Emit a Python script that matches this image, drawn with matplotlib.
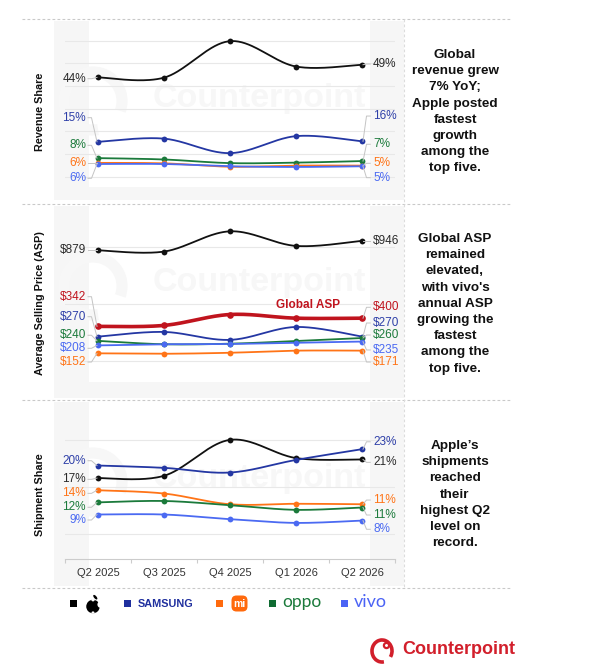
import numpy as np
import matplotlib
matplotlib.use('Agg')
import matplotlib.pyplot as plt
from matplotlib.patches import Rectangle, Ellipse, Circle, FancyBboxPatch, Arc
from matplotlib.lines import Line2D

plt.rcParams['font.family'] = ['Liberation Sans', 'DejaVu Sans']

# ---------------- data ----------------
quarters = ['Q2 2025', 'Q3 2025', 'Q4 2025', 'Q1 2026', 'Q2 2026']
brands = ['Apple', 'Samsung', 'Xiaomi', 'OPPO', 'vivo']

revenue_apple = [43.8, 43.7, 59.8, 48.6, 49.4]
revenue_samsung = [15.4, 16.8, 10.4, 17.9, 15.6]
revenue_xiaomi = [6.1, 5.9, 4.4, 4.9, 4.9]
revenue_oppo = [8.2, 7.6, 6.0, 6.2, 6.9]
revenue_vivo = [5.6, 5.6, 4.6, 4.3, 4.6]

asp_apple = [879, 870, 1013, 910, 946]
asp_samsung = [270, 303, 247, 338, 270]
asp_xiaomi = [152, 149, 156, 171, 171]
asp_oppo = [240, 216, 220, 239, 260]
asp_vivo = [208, 216, 218, 227, 235]
asp_global = [342, 349, 426, 400, 400]

ship_apple = [16.9, 17.4, 25.1, 21.2, 20.9]
ship_samsung = [19.6, 19.1, 18.1, 20.8, 23.1]
ship_xiaomi = [14.3, 13.6, 11.3, 11.4, 11.3]
ship_oppo = [11.7, 12.0, 11.1, 10.1, 10.6]
ship_vivo = [9.1, 9.1, 8.1, 7.3, 7.8]

panel_titles = ['Revenue Share', 'Average Selling Price (ASP)', 'Shipment Share']
comments = [
    ['Global', 'revenue grew', '7% YoY;', 'Apple posted', 'fastest', 'growth', 'among the', 'top five.'],
    ['Global ASP', 'remained', 'elevated,', "with vivo's", 'annual ASP', 'growing the', 'fastest', 'among the', 'top five.'],
    ['Apple\u2019s', 'shipments', 'reached', 'their', 'highest Q2', 'level on', 'record.'],
]

# ---------------- styles ----------------
W, H = 600, 665
colors = {'Apple': '#111111', 'Samsung': '#2437a3', 'Xiaomi': '#ff7417',
          'OPPO': '#1b7a3b', 'vivo': '#4b6af2', 'Global': '#c0141e'}
label_colors = {'Apple': '#2a2a2a', 'Samsung': '#2e3fa8', 'Xiaomi': '#ff7417',
                'OPPO': '#1b7a3b', 'vivo': '#4b6af2', 'Global': '#c0141e'}
GRID = '#e8e8e8'
LEADER = '#c4c4c4'

fig = plt.figure(figsize=(W / 100, H / 100), dpi=100)
fig.patch.set_facecolor('white')

def full_axes(z):
    a = fig.add_axes([0, 0, 1, 1], zorder=z)
    a.set_xlim(0, W)
    a.set_ylim(H, 0)
    a.axis('off')
    a.patch.set_alpha(0)
    return a

bg = full_axes(0)
ov = full_axes(10)

def px_axes(x0, y0, x1, y1):
    a = fig.add_axes([x0 / W, 1 - y1 / H, (x1 - x0) / W, (y1 - y0) / H], zorder=5)
    a.patch.set_alpha(0)
    return a

def to_px(ax, x, y):
    dx, dy = ax.transData.transform((x, y))
    return dx, H - dy

def smooth(xs, ys, n=40):
    P = np.column_stack([xs, ys]).astype(float)
    out = [P[0]]
    for i in range(len(P) - 1):
        p0 = P[i - 1] if i > 0 else P[i]
        p1, p2 = P[i], P[i + 1]
        p3 = P[i + 2] if i + 2 < len(P) else P[i + 1]
        c1 = p1 + (p2 - p0) / 6.0
        c2 = p2 - (p3 - p1) / 6.0
        t = np.linspace(0, 1, n)[1:, None]
        seg = ((1 - t) ** 3) * p1 + 3 * ((1 - t) ** 2) * t * c1 + 3 * (1 - t) * t ** 2 * c2 + t ** 3 * p2
        out.extend(seg)
    out = np.array(out)
    return out[:, 0], out[:, 1]

# ---------------- panel frames ----------------
seps = [19, 204, 400, 588]
panels = [(21, 200, 187), (206, 398, 382), (402, 586, 586)]
for (t, b, ib) in panels:
    bg.add_patch(Rectangle((54, t), 350, b - t, facecolor='#f6f6f6', edgecolor='none'))
    bg.add_patch(Rectangle((89, t), 281, ib - t, facecolor='white', edgecolor='none'))
    clip = Rectangle((54, t), 350, b - t, transform=bg.transData, facecolor='none', edgecolor='none')
    bg.add_patch(clip)
    wm = bg.text(153, t + 77, 'Counterpoint', fontsize=24.5, fontweight='bold', color='#f7f7f7',
                 ha='left', va='center', clip_on=True)
    wm.set_clip_path(clip)
    ring = Arc((93, t + 80), 58, 58, theta1=80, theta2=380, lw=8, color='#f7f7f7')
    bg.add_patch(ring)
    ring.set_clip_path(clip)

for y in seps:
    ov.add_line(Line2D([22, 511], [y, y], color='#c9c9c9', lw=0.8, ls=(0, (2.5, 2))))
ov.add_line(Line2D([404, 404], [seps[0], seps[-1]], color='#dcdcdc', lw=0.8, ls=(0, (2.5, 2))))

x = np.arange(len(quarters))

def draw_panel(ax, series, fmt, left_dy, right_dy):
    for name, vals in series:
        c = colors[name]
        sx, sy = smooth(x, vals)
        lw = 2.6 if name == 'Global' else 1.3
        ax.plot(sx, sy, color=c, lw=lw, zorder=3 if name != 'Global' else 2.5, solid_capstyle='round')
        ms = 4.8 if name == 'Global' else 4.2
        ax.plot(x, vals, 'o', color=c, ms=ms, mec=c, mew=0, zorder=4)
    for name, vals in series:
        lc = label_colors[name]
        # left label
        px, py = to_px(ax, x[0], vals[0])
        ly = py + left_dy[name]
        ov.add_line(Line2D([px - 10, px - 6.5, px - 1], [ly, ly, py], color=LEADER, lw=0.7, zorder=1))
        ov.text(px - 12, ly, fmt(vals[0]), color=lc, fontsize=8.5, ha='right', va='center')
        # right label
        px, py = to_px(ax, x[-1], vals[-1])
        ly = py + right_dy[name]
        ov.add_line(Line2D([px + 1, px + 4.5, px + 8.3], [py, ly, ly], color=LEADER, lw=0.7, zorder=1))
        ov.text(px + 11, ly, fmt(vals[-1]), color=lc, fontsize=8.5, ha='left', va='center')

def base_axes(ax, ylim, grid):
    ax.set_xlim(-0.5, len(quarters) - 0.5)
    ax.set_ylim(*ylim)
    for s in ax.spines.values():
        s.set_visible(False)
    ax.set_xticks([])
    ax.set_yticks([])
    for g in grid:
        ax.axhline(g, color=GRID, lw=0.8, zorder=1)

pct = lambda v: f'{round(v)}%'
usd = lambda v: f'${round(v)}'

# --- top: revenue share
ax1 = px_axes(65, 28, 395, 187)
base_axes(ax1, (-4.54, 65.6), [0, 10, 20, 30, 40, 50, 60])
draw_panel(ax1,
           [('Apple', revenue_apple), ('Samsung', revenue_samsung), ('OPPO', revenue_oppo),
            ('Xiaomi', revenue_xiaomi), ('vivo', revenue_vivo)],
           pct,
           {'Apple': 1.3, 'Samsung': -24.1, 'OPPO': -12.8, 'Xiaomi': 0, 'vivo': 14.3},
           {'Apple': -0.7, 'Samsung': -25.3, 'OPPO': -16.8, 'Xiaomi': -2.3, 'vivo': 11.4})

# --- middle: ASP
ax2 = px_axes(65, 213, 395, 382)
base_axes(ax2, (-50.3, 1142.3), [100, 500, 900])
draw_panel(ax2,
           [('Apple', asp_apple), ('Global', asp_global), ('Samsung', asp_samsung),
            ('OPPO', asp_oppo), ('vivo', asp_vivo), ('Xiaomi', asp_xiaomi)],
           usd,
           {'Apple': 0, 'Global': -29.7, 'Samsung': -19.9, 'OPPO': -5.6, 'vivo': 2.9, 'Xiaomi': 8.7},
           {'Apple': 0, 'Global': -10.9, 'Samsung': -13.6, 'OPPO': -3, 'vivo': 8.4, 'Xiaomi': 11.4})
ov.text(308, 305, 'Global ASP', color=colors['Global'], fontsize=8.5, fontweight='bold',
        ha='center', va='center')

# --- bottom: shipment share
ax3 = px_axes(65, 410, 395, 559.3)
base_axes(ax3, (-0.5, 31.5), [5, 15, 25])
draw_panel(ax3,
           [('Apple', ship_apple), ('Samsung', ship_samsung), ('Xiaomi', ship_xiaomi),
            ('OPPO', ship_oppo), ('vivo', ship_vivo)],
           pct,
           {'Apple': 1.2, 'Samsung': -4.8, 'Xiaomi': 3.1, 'OPPO': 4.9, 'vivo': 5.5},
           {'Apple': 2.9, 'Samsung': -7.4, 'Xiaomi': -4.2, 'OPPO': 7.5, 'vivo': 8.7})
ax3.spines['bottom'].set_visible(True)
ax3.spines['bottom'].set_color('#cccccc')
ax3.spines['bottom'].set_linewidth(0.8)
ax3.set_xticks(x)
ax3.set_xticklabels(quarters, fontsize=8, color='#333333')
ax3.tick_params(axis='x', which='major', length=0, pad=6.5)
ax3.set_xticks(np.arange(-0.5, len(quarters)), minor=True)
ax3.tick_params(axis='x', which='minor', length=3, color='#cccccc', width=0.8)

# ---------------- y titles & comments ----------------
for title, cy in zip(panel_titles, [112, 303, 495]):
    ov.text(40, cy, title, rotation=90, fontsize=7.8, fontweight='bold', color='#111111',
            ha='center', va='center')

for lines, y0 in zip(comments, [55, 239, 446]):
    for k, ln in enumerate(lines):
        ov.text(455, y0 + k * 16.2, ln, fontsize=9.7, fontweight='bold', color='#111111',
                ha='center', va='center')

# ---------------- legend ----------------
LY = 603.5
sq = 7
def square(xl, c):
    ov.add_patch(Rectangle((xl, LY - sq / 2), sq, sq, facecolor=c, edgecolor='none'))

square(69.5, '#000000')
# apple logo
ov.add_patch(Ellipse((93, 606.5), 13.5, 13.5, facecolor='#000000', edgecolor='none'))
ov.add_patch(Circle((100.8, 604.5), 3.4, facecolor='white', edgecolor='none'))
ov.add_patch(Ellipse((93, 600.2), 3.2, 2.4, facecolor='white', edgecolor='none'))
ov.add_patch(Ellipse((95.3, 597.2), 2.6, 5.6, angle=-40, facecolor='#000000', edgecolor='none'))
ov.add_patch(Ellipse((93, 612.5), 3, 2.2, facecolor='white', edgecolor='none'))

square(124, '#1f2f9e')
ov.text(138, LY + 0.5, 'SAMSUNG', fontsize=7.8, fontweight='bold', color='#1f2f9e',
        ha='left', va='center')

square(215.5, '#ff6a0d')
ov.add_patch(FancyBboxPatch((231.5, 595.5), 16, 16, boxstyle='round,pad=0,rounding_size=5',
                            facecolor='#ff6a0d', edgecolor='none'))
ov.text(239.5, 603.8, 'mi', fontsize=7.5, fontweight='bold', color='white', ha='center', va='center')

square(268.5, '#0f6b32')
ov.text(282, LY - 1.5, 'oppo', fontsize=12.5, color='#1b7a3b', family=['Lato', 'DejaVu Sans'],
        fontweight='normal', ha='left', va='center')

square(341, '#4b63f5')
ov.text(354, LY - 1.5, 'vivo', fontsize=13, color='#4b63f5', family=['Lato', 'DejaVu Sans'],
        fontweight='normal', ha='left', va='center')

# ---------------- Counterpoint logo ----------------
red = '#d21f2b'
ov.add_patch(Arc((382, 651), 20, 22, theta1=80, theta2=395, lw=2.6, color=red))
ov.add_patch(Circle((386.5, 645.5), 2.6, facecolor='white', edgecolor=red, lw=1.6))
ov.text(402, 650, 'Counterpoint', fontsize=13, fontweight='bold', color=red,
        ha='left', va='center')

fig.savefig('out.png', dpi=100)
